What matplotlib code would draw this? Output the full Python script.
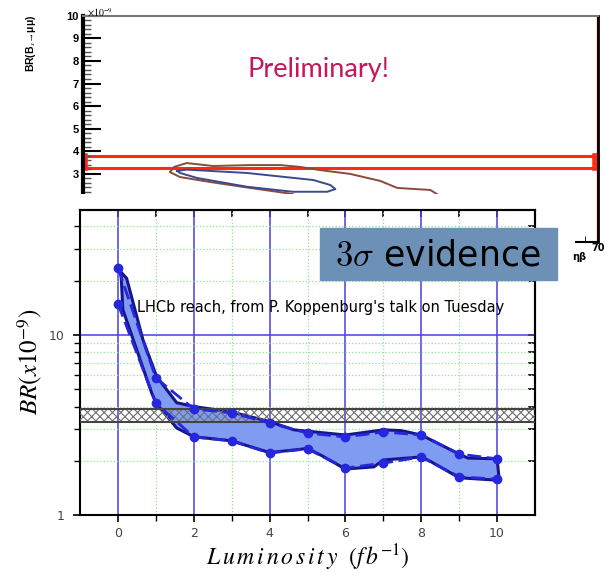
import matplotlib.pyplot as plt
from matplotlib.patches import Rectangle
from matplotlib.ticker import LogLocator, NullFormatter, MultipleLocator

plt.rcParams['mathtext.fontset'] = 'stix'
plt.rcParams['hatch.linewidth'] = 0.8

# top panel: scan contours (x10^-9)
red_band = (3.26, 3.81)
brown_x = [28.5, 22.7, 17.3, 13.2, 11.8, 12.4, 14.1, 17.7, 22.7, 26.8, 29.5, 32.2,
           36.3, 40.4, 42.7, 45.1, 47.2, 48.1]
brown_y = [2.11, 2.38, 2.64, 2.86, 3.08, 3.31, 3.48, 3.35, 3.39, 3.39, 3.31, 3.17,
           3.00, 2.69, 2.38, 2.33, 2.29, 2.11]
blue_x = [12.8, 14.1, 22.3, 31.3, 33.6, 34.3, 33.2, 28.5, 22.3, 15.5, 13.2, 12.8]
blue_y = [3.13, 3.19, 3.04, 2.73, 2.51, 2.33, 2.21, 2.21, 2.43, 2.82, 3.04, 3.13]

# lower panel: LHCb reach vs luminosity
lumi = [0, 1, 2, 3, 4, 5, 6, 7, 8, 9, 10]
br_high = [23.6, 5.77, 3.88, 3.69, 3.24, 2.85, 2.71, 2.89, 2.78, 2.18, 2.05]
br_low = [14.9, 4.19, 2.71, 2.58, 2.21, 2.33, 1.82, 1.94, 2.10, 1.63, 1.58]
edge_up_x = [0.08, 0.23, 0.66, 1.02, 1.55, 2, 3, 4, 4.64, 6, 7, 7.47, 8, 9, 9.23, 10, 10.05]
edge_up_y = [22.3, 20.6, 9.4, 5.87, 4.2, 4.0, 3.73, 3.3, 2.97, 2.78, 2.97, 2.94, 2.78,
             2.18, 2.07, 2.05, 1.62]
edge_lo_x = [10, 9, 8.25, 8, 7, 6.75, 6, 5.35, 5, 4, 3, 2, 1.55, 1.0, 0.89, 0.13]
edge_lo_y = [1.56, 1.61, 1.98, 2.10, 2.02, 1.85, 1.80, 2.15, 2.34, 2.22, 2.58, 2.72,
             3.04, 4.19, 4.76, 13.8]
sm_band = (3.3, 3.9)

W, H = 606, 573
fig = plt.figure(figsize=(W / 100, H / 100), dpi=100)


def box(x0, y0, x1, y1):
    return [x0 / W, 1 - y1 / H, (x1 - x0) / W, (y1 - y0) / H]


# ---- top panel ----
ax1 = fig.add_axes(box(83, 15.7, 598, 241.7), zorder=1)
ax1.set_xlim(0, 70)
ax1.set_ylim(0, 10)
ax1.plot(brown_x, brown_y, color='#8a4a3c', lw=1.4)
ax1.plot(blue_x, blue_y, color='#3a4a8c', lw=1.4)
ax1.add_patch(Rectangle((0, red_band[0]), 70, red_band[1] - red_band[0],
                        fill=False, edgecolor='#ff2a10', lw=2.2, clip_on=False))
ax1.plot([0.25, 0.25], red_band, color='#ff2a10', lw=4, clip_on=False)
ax1.plot([69.6, 69.6], red_band, color='#ff2a10', lw=4, clip_on=False)
ax1.axvline(69.8, color='#ff3020', lw=1)
ax1.spines['left'].set_linewidth(3)
ax1.spines['right'].set_linewidth(2)
ax1.spines['top'].set_color('#777777')
ax1.spines['top'].set_linewidth(1.5)
ax1.spines['bottom'].set_linewidth(1.5)
ax1.yaxis.set_major_locator(MultipleLocator(1))
ax1.yaxis.set_minor_locator(MultipleLocator(0.2))
ax1.set_yticklabels(['' if v < 3 else str(int(v)) for v in ax1.get_yticks()])
ax1.tick_params(axis='y', which='major', direction='in', length=13, width=1.5, pad=3,
                labelsize=8)
ax1.tick_params(axis='y', which='minor', direction='in', length=6, width=1,
                color='#555555')
for t in ax1.get_yticklabels():
    t.set_fontweight('bold')
    t.set_family('Liberation Sans')
ax1.set_xticks([70])
ax1.set_xticklabels(['70'], fontsize=7, fontweight='bold')
ax1.set_xticks([68.2], minor=True)
ax1.tick_params(axis='x', which='both', direction='in', length=4, pad=1)
ax1.text(0.5, 9.85, r'$\times10^{-9}$', fontsize=7, ha='left', va='bottom')
fig.text(31 / W, 1 - 43 / H, 'BR(B$_{s}$→μμ)', rotation=90, fontsize=7.5,
         fontweight='bold', ha='center', va='center',
         family=['Liberation Sans', 'DejaVu Sans'])
fig.text(579 / W, 1 - 257 / H, 'ηβ', fontsize=7, fontweight='bold',
         ha='center', va='center')
fig.text(318 / W, 1 - 70 / H, 'Preliminary!', color='#c5175c', fontsize=19.5,
         family='Lato', ha='center', va='center')

# ---- white cover for the lower picture ----
ov = fig.add_axes(box(0, 194, 575, 573), zorder=2)
ov.set_facecolor('white')
ov.set_xticks([])
ov.set_yticks([])
for s in ov.spines.values():
    s.set_visible(False)

# ---- lower panel ----
ax2 = fig.add_axes(box(80, 210.5, 535, 515), zorder=3)
ax2.set_yscale('log')
ax2.set_xlim(-1, 11)
ax2.set_ylim(1, 49)
ax2.fill(edge_up_x + edge_lo_x, edge_up_y + edge_lo_y, facecolor='#809cf2',
         edgecolor='#16168a', lw=2.2, zorder=3)
ax2.axhspan(sm_band[0], sm_band[1], facecolor='none', edgecolor='#707070',
            hatch='xxxx', lw=0, zorder=4)
ax2.axhline(sm_band[0], color='#444444', lw=1.5, zorder=4)
ax2.axhline(sm_band[1], color='#444444', lw=1.5, zorder=4)
ax2.plot(lumi, br_high, ls=(0, (5, 2)), color='#2626dc', lw=2, marker='o', ms=6,
         zorder=5)
ax2.plot(lumi, br_low, ls=(0, (5, 2)), color='#2626dc', lw=2, marker='o', ms=6,
         zorder=5)

ax2.set_xticks(range(0, 11, 2))
ax2.set_xticks([1, 3, 5, 7, 9], minor=True)
ax2.yaxis.set_major_locator(LogLocator(base=10))
ax2.yaxis.set_minor_locator(LogLocator(base=10, subs=range(2, 10)))
ax2.yaxis.set_minor_formatter(NullFormatter())
ax2.set_yticks([1, 10])
ax2.set_yticklabels(['1', '10'])
ax2.grid(which='major', color='#4a3ee0', lw=1.1)
ax2.grid(which='minor', color='#92e292', lw=0.9, ls=':')
ax2.set_axisbelow(True)
ax2.tick_params(which='both', direction='out', labelcolor='#444444', labelsize=9)
ax2.tick_params(which='major', length=5, width=1.2)
ax2.tick_params(which='minor', length=4, width=1)
ax2.tick_params(axis='y', pad=6)
for s in ax2.spines.values():
    s.set_linewidth(1.5)

secx = ax2.secondary_xaxis('top')
secx.set_xticks(range(-1, 12))
secx.tick_params(direction='in', length=5, width=1.2, labeltop=False)
secx.spines['top'].set_linewidth(1.5)
secy = ax2.secondary_yaxis('right')
secy.yaxis.set_major_locator(LogLocator(base=10))
secy.yaxis.set_minor_locator(LogLocator(base=10, subs=range(2, 10)))
secy.tick_params(which='both', direction='in', length=5, width=1.2, labelright=False)
secy.spines['right'].set_linewidth(1.5)

ax2.text(0.5, 14.1, "LHCb reach, from P. Koppenburg's talk on Tuesday",
         fontsize=10.5, ha='left', va='center', zorder=6)
fig.text(30 / W, 1 - 362 / H, r'$BR(x10^{-9})$', rotation=90, fontsize=18,
         ha='center', va='center')
fig.text(308 / W, 1 - 565 / H, r'$L\,u\,m\,i\,n\,o\,s\,i\,t\,y\ \ (f\,b^{-1})$',
         fontsize=17, ha='center', va='baseline')

# ---- 3 sigma box ----
fig.add_artist(Rectangle((320 / W, 1 - 280 / H), 237 / W, 52 / H,
                         transform=fig.transFigure, color='#6d91b6', zorder=10))
fig.text(438 / W, 1 - 255 / H, r'$3\sigma$ evidence', fontsize=25,
         math_fontfamily='cm', ha='center', va='center', zorder=11)

fig.savefig('out.png', dpi=100)
